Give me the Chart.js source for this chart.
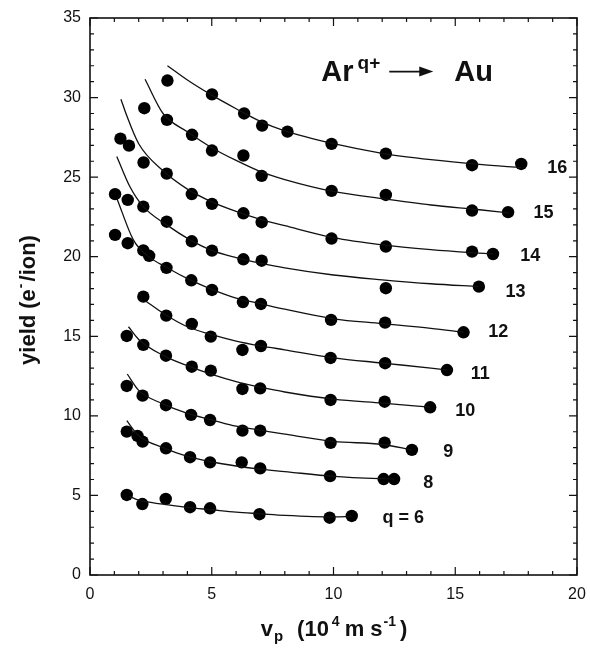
<!DOCTYPE html>
<html>
<head>
<meta charset="utf-8">
<title>Ar q+ on Au electron yield</title>
<script src="https://cdn.jsdelivr.net/npm/chart.js@4.4.0/dist/chart.umd.min.js"></script>
<style>
    html, body { margin: 0; padding: 0; background: #fff; }
    #wrap { position: relative; width: 590px; height: 648px; }
</style>
</head>
<body>
<div id="wrap"><canvas id="yieldChart"></canvas></div>
<script>
// measured points: v_p in 10^4 m/s, yield in electrons per ion
const q16X = [3.18, 5.01, 6.33, 7.07, 8.11, 9.92, 12.15, 15.69, 17.71];
const q16Y = [31.07, 30.2, 29.0, 28.24, 27.86, 27.09, 26.48, 25.75, 25.83];
const q15X = [2.23, 3.16, 4.19, 5.01, 6.30, 7.05, 9.92, 12.15, 15.69, 17.17];
const q15Y = [29.33, 28.6, 27.66, 26.67, 26.36, 25.08, 24.14, 23.88, 22.9, 22.8];
const q14X = [1.25, 1.6, 2.2, 3.15, 4.18, 5.01, 6.3, 7.05, 9.92, 12.15, 15.69, 16.55];
const q14Y = [27.42, 26.98, 25.92, 25.22, 23.94, 23.32, 22.73, 22.17, 21.14, 20.64, 20.32, 20.17];
const q13X = [1.03, 1.55, 2.19, 3.15, 4.18, 5.01, 6.3, 7.05, 12.15, 15.97];
const q13Y = [23.93, 23.57, 23.15, 22.2, 20.97, 20.38, 19.84, 19.75, 18.02, 18.12];
const q12X = [1.03, 1.55, 2.19, 2.43, 3.14, 4.16, 5.01, 6.28, 7.02, 9.9, 12.12, 15.34];
const q12Y = [21.37, 20.85, 20.4, 20.06, 19.3, 18.52, 17.91, 17.15, 17.03, 16.03, 15.86, 15.25];
const q11X = [2.19, 3.13, 4.18, 4.96, 6.26, 7.02, 9.88, 12.12, 14.66];
const q11Y = [17.49, 16.3, 15.78, 14.98, 14.14, 14.39, 13.64, 13.31, 12.88];
const q10X = [1.51, 2.19, 3.12, 4.18, 4.96, 6.26, 6.99, 9.88, 12.1, 13.97];
const q10Y = [15.02, 14.46, 13.78, 13.09, 12.84, 11.69, 11.73, 11.0, 10.89, 10.54];
const q9X = [1.51, 2.16, 3.12, 4.15, 4.93, 6.26, 6.99, 9.88, 12.1, 13.22];
const q9Y = [11.88, 11.27, 10.67, 10.06, 9.74, 9.07, 9.07, 8.3, 8.32, 7.86];
const q8X = [1.51, 1.95, 2.16, 3.12, 4.11, 4.93, 6.23, 6.99, 9.86, 12.06, 12.49];
const q8Y = [9.01, 8.74, 8.38, 7.96, 7.4, 7.08, 7.08, 6.7, 6.21, 6.03, 6.03];
const q6X = [1.51, 2.15, 3.11, 4.11, 4.93, 6.96, 9.84, 10.75];
const q6Y = [5.03, 4.46, 4.78, 4.26, 4.19, 3.82, 3.6, 3.71];

// fitted curves
const fit16X = [3.18, 4, 5, 6, 7, 8, 10, 12, 14, 16, 17.7];
const fit16Y = [32.0, 31.1, 30.15, 29.3, 28.5, 27.9, 27.1, 26.5, 26.1, 25.8, 25.6];
const fit15X = [2.26, 3, 4, 5, 6, 7, 8, 10, 12, 14, 16, 17.2];
const fit15Y = [31.15, 29.0, 27.85, 26.85, 26.05, 25.35, 24.85, 24.1, 23.65, 23.25, 22.95, 22.75];
const fit14X = [1.27, 1.5, 2, 3, 4, 5, 6, 7, 8, 10, 12, 14, 16.55];
const fit14Y = [29.9, 28.9, 27.1, 25.4, 24.25, 23.45, 22.85, 22.35, 21.95, 21.2, 20.75, 20.45, 20.17];
const fit13X = [1.1, 1.64, 2.19, 3.15, 4.11, 5, 6, 7, 8, 10, 12, 14, 15.97];
const fit13Y = [26.3, 24.4, 23.15, 22.0, 21.06, 20.4, 19.95, 19.6, 19.3, 18.85, 18.55, 18.3, 18.12];
const fit12X = [1.1, 1.78, 2.33, 3.15, 4.11, 5, 6, 7, 8, 10, 12, 14, 15.34];
const fit12Y = [23.68, 21.06, 20.1, 19.32, 18.54, 17.95, 17.4, 17.05, 16.7, 16.1, 15.8, 15.5, 15.25];
const fit11X = [2.3, 3, 4, 5, 6, 7, 8, 10, 12, 14, 14.66];
const fit11Y = [17.2, 16.45, 15.6, 15.1, 14.7, 14.4, 14.15, 13.65, 13.32, 13.0, 12.88];
const fit10X = [1.58, 2, 3, 4, 5, 6, 7, 8, 10, 12, 13.97];
const fit10Y = [15.6, 14.8, 13.8, 13.15, 12.6, 12.15, 11.8, 11.5, 11.05, 10.8, 10.55];
const fit9X = [1.53, 2, 3, 4, 5, 6, 7, 8, 10, 12, 13.22];
const fit9Y = [12.63, 11.6, 10.75, 10.15, 9.75, 9.35, 9.1, 8.85, 8.4, 8.2, 7.86];
const fit8X = [1.51, 2, 3, 4, 5, 6, 7, 8, 10, 12, 12.49];
const fit8Y = [9.7, 8.75, 8.0, 7.45, 7.1, 6.85, 6.65, 6.5, 6.2, 6.05, 6.03];
const fit6X = [1.64, 2, 3, 4, 5, 6, 7, 8, 10, 10.75];
const fit6Y = [4.92, 4.7, 4.45, 4.25, 4.1, 3.95, 3.85, 3.75, 3.65, 3.68];

// charge state labels and where they sit (data units)
const qLabels = ['16', '15', '14', '13', '12', '11', '10', '9', '8', 'q = 6'];
const qLabelX = [19.19, 18.62, 18.08, 17.47, 16.77, 16.03, 15.41, 14.71, 13.89, 12.86];
const qLabelY = [25.58, 22.75, 20.05, 17.79, 15.27, 12.63, 10.31, 7.73, 5.78, 3.58];

const xTicks = [0, 5, 10, 15, 20];
const yTicks = [0, 5, 10, 15, 20, 25, 30, 35];

const series = [
    { pts: [q16X, q16Y], fit: [fit16X, fit16Y] },
    { pts: [q15X, q15Y], fit: [fit15X, fit15Y] },
    { pts: [q14X, q14Y], fit: [fit14X, fit14Y] },
    { pts: [q13X, q13Y], fit: [fit13X, fit13Y] },
    { pts: [q12X, q12Y], fit: [fit12X, fit12Y] },
    { pts: [q11X, q11Y], fit: [fit11X, fit11Y] },
    { pts: [q10X, q10Y], fit: [fit10X, fit10Y] },
    { pts: [q9X, q9Y], fit: [fit9X, fit9Y] },
    { pts: [q8X, q8Y], fit: [fit8X, fit8Y] },
    { pts: [q6X, q6Y], fit: [fit6X, fit6Y] }
];

function zip(xs, ys) {
    return xs.map((x, i) => ({ x: x, y: ys[i] }));
}

const FONT = '"Liberation Sans", Arial, Helvetica, sans-serif';
Chart.defaults.font.family = FONT;
Chart.defaults.color = '#111';

const datasets = [];
series.forEach(function(s) {
    datasets.push({
        data: zip(s.fit[0], s.fit[1]),
        showLine: true,
        borderColor: '#111',
        borderWidth: 1.3,
        pointRadius: 0,
        cubicInterpolationMode: 'monotone',
        fill: false
    });
    datasets.push({
        data: zip(s.pts[0], s.pts[1]),
        showLine: false,
        backgroundColor: '#000',
        borderColor: '#000',
        borderWidth: 0,
        pointRadius: 6.2
    });
});

// draw text made of pieces (for super/subscripts)
function drawPieces(ctx, parts, x, y) {
    let cx = x;
    parts.forEach(function(p) {
        ctx.font = 'bold ' + p.size + 'px ' + FONT;
        ctx.fillText(p.t, cx, y + (p.dy || 0));
        cx += ctx.measureText(p.t).width + (p.gap || 0);
    });
    return cx - x;
}

function piecesWidth(ctx, parts) {
    let w = 0;
    parts.forEach(function(p) {
        ctx.font = 'bold ' + p.size + 'px ' + FONT;
        w += ctx.measureText(p.t).width + (p.gap || 0);
    });
    return w;
}

// box frame with inward ticks on all four sides
const frameTicks = {
    id: 'frameTicks',
    afterDraw(chart) {
        const ctx = chart.ctx;
        const a = chart.chartArea;
        const xs = chart.scales.x;
        const ys = chart.scales.y;
        ctx.save();
        ctx.strokeStyle = '#111';
        ctx.lineWidth = 1.6;
        ctx.strokeRect(a.left, a.top, a.right - a.left, a.bottom - a.top);
        ctx.lineWidth = 1.2;
        ctx.beginPath();
        for (let v = 0; v <= 20; v++) {
            const px = xs.getPixelForValue(v);
            const len = v % 5 === 0 ? 8 : 4;
            ctx.moveTo(px, a.bottom); ctx.lineTo(px, a.bottom - len);
            ctx.moveTo(px, a.top); ctx.lineTo(px, a.top + len);
        }
        for (let v = 0; v <= 35; v++) {
            const py = ys.getPixelForValue(v);
            const len = v % 5 === 0 ? 8 : 4;
            ctx.moveTo(a.left, py); ctx.lineTo(a.left + len, py);
            ctx.moveTo(a.right, py); ctx.lineTo(a.right - len, py);
        }
        ctx.stroke();
        ctx.restore();
    }
};

// q labels, title reaction and axis titles
const annotations = {
    id: 'annotations',
    afterDraw(chart) {
        const ctx = chart.ctx;
        const xs = chart.scales.x;
        const ys = chart.scales.y;
        ctx.save();
        ctx.fillStyle = '#111';
        ctx.strokeStyle = '#111';

        ctx.textAlign = 'center';
        ctx.textBaseline = 'middle';
        ctx.font = 'bold 18px ' + FONT;
        qLabels.forEach(function(t, i) {
            ctx.fillText(t, xs.getPixelForValue(qLabelX[i]), ys.getPixelForValue(qLabelY[i]));
        });

        // Ar^q+ -> Au
        ctx.textAlign = 'left';
        ctx.textBaseline = 'alphabetic';
        const tx = xs.getPixelForValue(9.5);
        const ty = ys.getPixelForValue(31.07);
        let w = drawPieces(ctx, [{ t: 'Ar', size: 29, gap: 4 }, { t: 'q+', size: 19, dy: -12 }], tx, ty);
        const ax0 = tx + w + 9;
        const ax1 = ax0 + 44;
        const ay = ty - 9;
        ctx.lineWidth = 1.7;
        ctx.beginPath();
        ctx.moveTo(ax0, ay); ctx.lineTo(ax1 - 8, ay);
        ctx.stroke();
        ctx.beginPath();
        ctx.moveTo(ax1, ay); ctx.lineTo(ax1 - 14, ay - 5); ctx.lineTo(ax1 - 14, ay + 5);
        ctx.closePath();
        ctx.fill();
        drawPieces(ctx, [{ t: 'Au', size: 29 }], ax1 + 21, ty);

        // x axis title
        const xParts = [
            { t: 'v', size: 22, gap: 1 },
            { t: 'p', size: 15, dy: 5, gap: 14 },
            { t: '(10', size: 22, gap: 3 },
            { t: '4', size: 14, dy: -10, gap: 5 },
            { t: 'm s', size: 22, gap: 1 },
            { t: '-1', size: 14, dy: -10, gap: 4 },
            { t: ')', size: 22 }
        ];
        const xw = piecesWidth(ctx, xParts);
        drawPieces(ctx, xParts, 334 - xw / 2, 636);

        // y axis title
        const yParts = [
            { t: 'yield (e', size: 22, gap: 1 },
            { t: '-', size: 14, dy: -10, gap: 2 },
            { t: '/ion)', size: 22 }
        ];
        const yw = piecesWidth(ctx, yParts);
        ctx.translate(35, 300);
        ctx.rotate(-Math.PI / 2);
        drawPieces(ctx, yParts, -yw / 2, 0);
        ctx.restore();
    }
};

const ctxEl = document.getElementById('yieldChart');
new Chart(ctxEl, {
    type: 'scatter',
    data: { datasets: datasets },
    options: {
        responsive: true,
        maintainAspectRatio: false,
        animation: false,
        layout: { padding: { top: 18, right: 13, left: 0, bottom: 0 } },
        plugins: {
            legend: { display: false },
            tooltip: { enabled: false }
        },
        scales: {
            x: {
                type: 'linear',
                min: 0,
                max: 20,
                afterFit: function(scale) {
                    scale.height = 73;
                    scale.paddingLeft = 0;
                    scale.paddingRight = 0;
                },
                afterBuildTicks: function(scale) {
                    scale.ticks = xTicks.map(v => ({ value: v }));
                },
                grid: { display: false, drawTicks: false },
                border: { display: false },
                ticks: {
                    padding: 10,
                    maxRotation: 0,
                    font: { size: 16 },
                    color: '#111'
                }
            },
            y: {
                type: 'linear',
                min: 0,
                max: 35,
                afterFit: function(scale) {
                    scale.width = 90;
                    scale.paddingTop = 0;
                    scale.paddingBottom = 0;
                },
                afterBuildTicks: function(scale) {
                    scale.ticks = yTicks.map(v => ({ value: v }));
                },
                grid: { display: false, drawTicks: false },
                border: { display: false },
                ticks: {
                    padding: 9,
                    font: { size: 16 },
                    color: '#111'
                }
            }
        }
    },
    plugins: [frameTicks, annotations]
});
</script>
</body>
</html>
